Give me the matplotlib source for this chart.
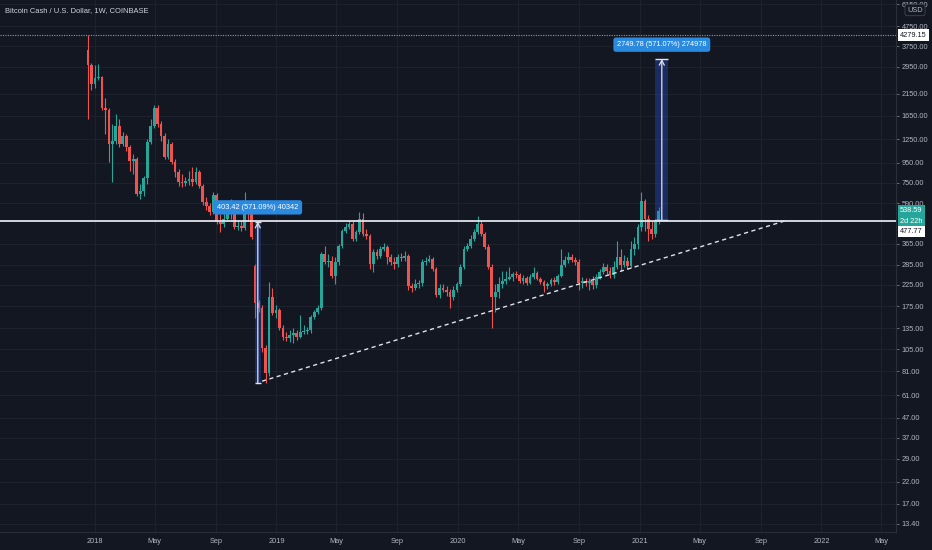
import matplotlib
matplotlib.use('Agg')
import matplotlib.pyplot as plt
import matplotlib.dates as mdates
import matplotlib.transforms as mtransforms
from matplotlib.patches import Rectangle
import numpy as np
import pandas as pd

# ---------------------------------------------------------------
# colours
# ---------------------------------------------------------------
BG = '#131722'
GRID = '#1f232e'
TXT = '#b2b5be'
UP = '#26a69a'
DOWN = '#ef5350'
LINE = '#e0e3eb'
BLUE = '#2a8ae0'

plt.rcParams['font.family'] = ['Liberation Sans', 'DejaVu Sans']

# ---------------------------------------------------------------
# data: BCH/USD weekly candles (Coinbase)
# ---------------------------------------------------------------
first_week = '2017-12-18'

opens = [3589, 3003, 2396, 2574, 2604, 1803, 1761, 1190, 1233, 1474,
         1190, 1309, 1148, 973, 996, 657, 681, 795, 1219, 1474,
         1803, 1509, 1309, 1020, 1190, 961, 854, 758, 749, 767,
         786, 758, 854, 723, 598, 570, 531, 650, 472, 460,
         489, 531, 518, 444, 450, 439, 531, 518, 280, 182.5,
         172, 107, 79.5, 196, 162, 168, 136, 122, 120.5, 124.8,
         127.9, 122, 129.4, 130.9, 132.5, 154.6, 164, 172, 322.6, 293,
         297, 248.4, 293, 354.6, 424, 444, 460.5, 385.4, 419, 488.6,
         409, 399, 286.5, 330, 315, 342, 350.5, 311, 293, 286.5,
         311, 309, 315, 220.7, 218, 226, 228.7, 293, 297, 304,
         270, 200.7, 218, 212.9, 208, 196, 212.9, 226, 276.5, 342.3,
         354.6, 385.4, 419, 460.5, 409, 350.5, 276.5, 196, 208, 226,
         234.2, 239.8, 245.5, 254.4, 251.3, 234.2, 242.6, 228.7, 245.5, 257.5,
         239.8, 231.4, 220.7, 226, 237, 231.4, 248.4, 283, 300.4, 311,
         300.4, 293, 228.7, 234.2, 228.7, 234.2, 223.3, 245.5, 260.6, 276.5,
         263.7, 251.3, 276.5, 311, 283, 297, 280, 342.3, 363.2, 444,
         605, 488.6, 434, 409, 477]

highs = [4279.15, 3075, 3003, 3030, 2636, 2030, 1803, 1509, 1679, 1601,
         1372, 1340, 1176, 1057, 1020, 740, 814, 1263, 1601, 1868,
         1868, 1563, 1356, 1263, 1219, 996, 884, 834, 804, 864,
         906, 906, 874, 740, 634, 591, 673, 665, 518, 537,
         584, 620, 550, 477, 477, 673, 570, 550, 286.5, 189,
         178, 110.9, 234, 218, 178, 172, 140.6, 129.4, 132.5, 136,
         132.5, 158.3, 140.6, 137.3, 158.3, 168, 178, 330, 354.6, 322.6,
         315, 311, 363.2, 434, 466, 483, 477, 429, 531, 524.6,
         434, 409, 342, 342, 354.6, 367.5, 358.8, 322.6, 311, 322.6,
         326.4, 334, 322.6, 228.7, 239.8, 237, 304, 311, 318.7, 311,
         276.5, 226, 226, 220.7, 215.5, 220.7, 231.4, 286.5, 354.6, 367.5,
         404, 434, 506.3, 477, 419, 363.2, 286.5, 226, 245.5, 263.7,
         263.7, 276.5, 260.6, 263.7, 257.5, 251.3, 248.4, 254.4, 276.5, 263.7,
         245.5, 237, 231.4, 242.6, 245.5, 254.4, 342.3, 315, 330, 322.6,
         311, 304, 245.5, 242.6, 242.6, 248.4, 254.4, 270, 290, 286.5,
         276.5, 297, 376, 342.3, 318.7, 311, 376, 394.7, 460.5, 673,
         619.5, 512, 477, 488.6, 563.5]

lows = [1601, 2232, 2286, 2514, 1761, 1340, 961, 758, 1190, 1148,
        1162, 1095, 864, 834, 642, 620, 642, 740, 1190, 1439,
        1456, 1233, 996, 996, 938, 804, 723, 714, 723, 731,
        723, 740, 706, 577, 544, 512, 518, 460, 419, 444,
        477, 489, 434, 429, 424, 429, 477, 385, 152.8, 164,
        102, 70.64, 76.7, 158, 153, 132.5, 117.6, 116.2, 114.8, 113.5,
        117.6, 120.5, 126.3, 126.3, 127.9, 151, 160, 168, 286.5, 276.5,
        242.6, 226, 283, 346.3, 414, 434, 376, 376, 409, 399,
        385, 270, 260.6, 304, 307.6, 334, 286.5, 283, 270, 276.5,
        297, 297, 212.9, 208, 212.9, 218, 220.7, 283, 293, 263.7,
        196, 193.7, 208, 198.3, 172, 189.1, 208, 220.7, 270, 334,
        346.3, 376, 409, 399, 342.3, 270, 136, 164, 193.7, 218,
        226, 237, 234.2, 242.6, 228.7, 226, 223.3, 226, 239.8, 237,
        226, 208, 215.5, 220.7, 223.3, 226, 245.5, 276.5, 290, 293,
        283, 212.9, 218, 220.7, 212.9, 215.5, 218, 239.8, 254.4, 254.4,
        242.6, 242.6, 270, 263.7, 276.5, 270, 273, 318.7, 342.3, 424,
        424, 376, 385.4, 394.7, 460.5]

closes = [3003, 2396, 2574, 2604, 1803, 1761, 1190, 1233, 1474, 1190,
          1309, 1148, 973, 996, 657, 681, 795, 1219, 1474, 1803,
          1509, 1309, 1020, 1190, 961, 854, 758, 749, 767, 786,
          758, 854, 723, 598, 570, 531, 650, 472, 460, 489,
          531, 518, 444, 450, 439, 531, 518, 395, 182.5, 172,
          107, 79.5, 196, 162, 168, 136, 122, 120.5, 124.8, 127.9,
          122, 129.4, 130.9, 132.5, 154.6, 164, 172, 322.6, 293, 297,
          248.4, 293, 354.6, 424, 444, 460.5, 385.4, 419, 488.6, 409,
          399, 286.5, 330, 315, 342, 350.5, 311, 293, 286.5, 311,
          309, 315, 220.7, 218, 226, 228.7, 293, 297, 304, 270,
          200.7, 218, 212.9, 208, 196, 212.9, 226, 276.5, 342.3, 354.6,
          385.4, 419, 460.5, 409, 350.5, 276.5, 196, 208, 226, 234.2,
          239.8, 245.5, 254.4, 251.3, 234.2, 242.6, 228.7, 245.5, 257.5, 239.8,
          231.4, 220.7, 226, 237, 231.4, 248.4, 283, 300.4, 311, 300.4,
          293, 228.7, 234.2, 228.7, 234.2, 223.3, 245.5, 260.6, 276.5, 263.7,
          251.3, 276.5, 311, 283, 297, 280, 342.3, 363.2, 444, 605,
          488.6, 434, 409, 477, 538.59]

# horizontal levels
ath_level = 4279.15
resistance = 477.77
last_price = 538.59
countdown = '2d 22h'

# ascending support line
trend_dates = ['2018-12-03', '2021-10-25']
trend_prices = [72.2, 483.0]

# price range tools
range1_dates = ['2018-11-18', '2018-12-01']
range1_prices = [70.64, 474.06]
range1_label = '403.42 (571.09%) 40342'

range2_dates = ['2021-02-01', '2021-02-27']
range2_prices = [481.5, 3231.3]
range2_label = '2749.78 (571.07%) 274978'

# axes ticks
price_ticks = [6150, 4750, 3750, 2950, 2150, 1650, 1250, 950, 750, 590,
               365, 285, 225, 175, 135, 105, 81, 61, 47, 37, 29, 22, 17, 13.4]
time_ticks = ['2018-01-01', '2018-05-01', '2018-09-01', '2019-01-01', '2019-05-01',
              '2019-09-01', '2020-01-01', '2020-05-01', '2020-09-01', '2021-01-01',
              '2021-05-01', '2021-09-01', '2022-01-01', '2022-05-01']
time_labels = ['2018', 'May', 'Sep', '2019', 'May', 'Sep', '2020', 'May', 'Sep',
               '2021', 'May', 'Sep', '2022', 'May']
view_dates = ['2017-06-24', '2022-05-31']
view_prices = [12.19, 6479]

title = 'Bitcoin Cash / U.S. Dollar, 1W, COINBASE'


def dnum(s):
    return mdates.date2num(pd.Timestamp(s).to_pydatetime())


# ---------------------------------------------------------------
# figure
# ---------------------------------------------------------------
fig = plt.figure(figsize=(9.32, 5.5), dpi=100, facecolor=BG)
ax = fig.add_axes([0, 18 / 550, 896 / 932, 532 / 550], facecolor=BG)
ax.set_yscale('log')

x = mdates.date2num(pd.date_range(first_week, periods=len(closes), freq='7D').to_pydatetime())
o = np.array(opens, dtype=float)
h = np.array(highs, dtype=float)
l = np.array(lows, dtype=float)
c = np.array(closes, dtype=float)
colors = np.where(c >= o, UP, DOWN)

ax.vlines(x, l, h, colors=colors, lw=0.8, zorder=3)
ax.bar(x, np.abs(c - o), bottom=np.minimum(o, c), width=5.6,
       color=colors, linewidth=0, zorder=4)

# levels
ax.axhline(ath_level, color='#9598a1', lw=0.8, ls=(0, (1, 1.2)), zorder=2)
ax.axhline(resistance, color=LINE, lw=1.3, zorder=5)
ax.plot([dnum(d) for d in trend_dates], trend_prices, color=LINE, lw=1.0,
        ls=(0, (3, 2.5)), zorder=5)

# price range tools
for rdates, rprices, rlabel in [(range1_dates, range1_prices, range1_label),
                                (range2_dates, range2_prices, range2_label)]:
    x0, x1 = dnum(rdates[0]), dnum(rdates[1])
    xm = (x0 + x1) / 2
    ax.add_patch(Rectangle((x0, rprices[0]), x1 - x0, rprices[1] - rprices[0],
                           facecolor='#2962ff', alpha=0.28, edgecolor='none', zorder=6))
    ax.hlines(rprices, x0, x1, colors=LINE, lw=1.0, zorder=7)
    ax.annotate('', xy=(xm, rprices[1]), xytext=(xm, rprices[0]),
                arrowprops=dict(arrowstyle='->,head_length=0.35,head_width=0.18',
                                color=LINE, lw=0.9, shrinkA=0, shrinkB=0), zorder=7)
    ax.annotate(rlabel, xy=(xm, rprices[1]), xytext=(0, 10.3), textcoords='offset points',
                ha='center', va='center', fontsize=5.3, color='white', zorder=9,
                bbox=dict(boxstyle='round,pad=0.5,rounding_size=0.35',
                          facecolor=BLUE, edgecolor='none'))

# limits
ax.set_xlim(dnum(view_dates[0]), dnum(view_dates[1]))
ax.set_ylim(view_prices[0], view_prices[1])

# price scale on the right
ax.yaxis.tick_right()
ax.set_yticks(price_ticks)
ax.set_yticklabels(['%.2f' % p for p in price_ticks])
ax.yaxis.set_minor_locator(matplotlib.ticker.NullLocator())
ax.tick_params(axis='y', labelsize=5.3, labelcolor=TXT, length=2.2, width=0.6,
               color='#787b86', pad=2)

# time scale
ax.set_xticks([dnum(d) for d in time_ticks])
ax.set_xticklabels(time_labels)
ax.tick_params(axis='x', labelsize=5.3, labelcolor=TXT, length=0, pad=4.3)

ax.grid(True, color=GRID, lw=0.7, zorder=0)
ax.set_axisbelow(True)
for side in ['left', 'top']:
    ax.spines[side].set_visible(False)
for side in ['right', 'bottom']:
    ax.spines[side].set_color('#2a2e39')
    ax.spines[side].set_linewidth(0.8)

# scale labels
blend = mtransforms.blended_transform_factory(ax.transAxes, ax.transData)
lx = 900 / 896
ax.text(lx, ath_level, '%.2f' % ath_level, transform=blend, ha='left', va='center',
        fontsize=5.3, color=BG, zorder=20, clip_on=False,
        bbox=dict(boxstyle='square,pad=0.3', facecolor='white', edgecolor='none'))
ax.text(lx, last_price, '%.2f' % last_price, transform=blend, ha='left', va='center',
        fontsize=5.3, color='white', zorder=20, clip_on=False,
        bbox=dict(boxstyle='square,pad=0.3', facecolor=UP, edgecolor='none'))
ax.annotate(countdown, xy=(lx, last_price), xycoords=blend, xytext=(0, -7.6),
            textcoords='offset points', ha='left', va='center', fontsize=5.3,
            color='white', zorder=20, annotation_clip=False,
            bbox=dict(boxstyle='square,pad=0.3', facecolor=UP, edgecolor='none'))
ax.annotate('%.2f' % resistance, xy=(lx, resistance), xycoords=blend, xytext=(0, -7.6),
            textcoords='offset points', ha='left', va='center', fontsize=5.3,
            color=BG, zorder=20, annotation_clip=False,
            bbox=dict(boxstyle='square,pad=0.3', facecolor='white', edgecolor='none'))
ax.text(915 / 896, 1 - 10 / 532, 'USD', transform=ax.transAxes, ha='center', va='center',
        fontsize=5.3, color=TXT, zorder=20, clip_on=False,
        bbox=dict(boxstyle='round,pad=0.3,rounding_size=0.3', facecolor=BG,
                  edgecolor='#434651', lw=0.6))

# title
ax.text(5 / 896, 1 - 11 / 532, title, transform=ax.transAxes, ha='left', va='center',
        fontsize=5.4, color='#d1d4dc', zorder=20)

fig.savefig('out.png', dpi=100, facecolor=BG)
plt.close(fig)
